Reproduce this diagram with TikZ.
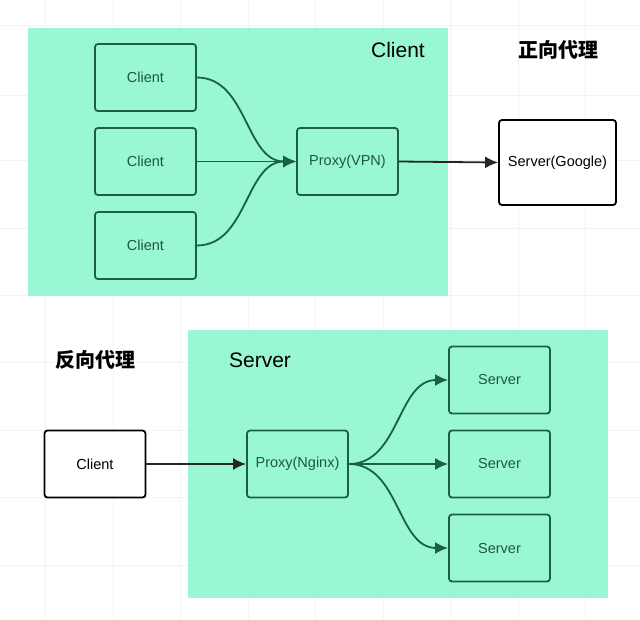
\documentclass[tikz,border=0pt]{standalone}
\usepackage{fontspec}
\setmainfont{Liberation Sans}
\newfontfamily\cjkfont{Noto Sans CJK SC}
\usetikzlibrary{arrows.meta}
\definecolor{mintfill}{RGB}{153,247,212}
\definecolor{boxgreen}{RGB}{28,96,66}
\definecolor{textgreen}{RGB}{32,88,62}
\definecolor{gridgray}{RGB}{243,243,243}

\tikzset{
  greenbox/.style={draw=boxgreen, line width=1.8pt, rounded corners=3pt,
    minimum width=101pt, minimum height=67pt, text=textgreen,
    font=\fontsize{14.5}{17}\selectfont},
  whitebox/.style={draw=black, fill=white, line width=1.8pt, rounded corners=3pt,
    minimum height=67pt, minimum width=101pt, font=\fontsize{14.5}{17}\selectfont},
  flow/.style={draw=boxgreen, line width=1.8pt, -{Latex[length=13pt,width=12pt]}},
  blackflow/.style={draw=black!85, line width=1.8pt, -{Latex[length=13pt,width=12pt]}}
}

\begin{document}
\begin{tikzpicture}[x=1pt, y=-1pt]
\useasboundingbox (0,0) rectangle (640,619);
\fill[white] (0,0) rectangle (640,619);
% faint grid in the background
\foreach \gx in {45,113,180,248,315,383,450,518,585}
  \draw[gridgray, line width=0.6pt] (\gx,0) -- (\gx,619);
\foreach \gy in {25,95,160,228,295,362,430,497,565}
  \draw[gridgray, line width=0.6pt] (0,\gy) -- (640,\gy);

% forward proxy
\fill[mintfill] (28,28) rectangle (448,296);
\node[font=\fontsize{21}{24}\selectfont] (clienttitle) at (398,50) {Client};
\node[font=\cjkfont\bfseries\fontsize{20}{24}\selectfont] (fwdtitle) at (558,50) {正向代理};
\node[greenbox] (client1) at (145.5,77.5) {Client};
\node[greenbox] (client2) at (145.5,161.5) {Client};
\node[greenbox] (client3) at (145.5,245.5) {Client};
\node[greenbox] (vpn) at (347.5,161.5) {Proxy(VPN)};
\node[whitebox, minimum width=117pt, minimum height=85pt] (google) at (557.5,162.5) {Server(Google)};
\draw[flow] (client1.east) to[out=0, in=180] (vpn.west);
\draw[flow] (client2.east) -- (vpn.west);
\draw[flow] (client3.east) to[out=0, in=180] (vpn.west);
\draw[blackflow] (vpn.east) -- (google.west);

% reverse proxy
\fill[mintfill] (188,330) rectangle (608,598);
\node[font=\cjkfont\bfseries\fontsize{20}{24}\selectfont] (revtitle) at (95,360) {反向代理};
\node[font=\fontsize{21}{24}\selectfont] (servertitle) at (260,360) {Server};
\node[whitebox] (client) at (95,464) {Client};
\node[greenbox] (nginx) at (297.5,464) {Proxy(Nginx)};
\node[greenbox] (server1) at (499.5,380) {Server};
\node[greenbox] (server2) at (499.5,464) {Server};
\node[greenbox] (server3) at (499.5,548) {Server};
\draw[blackflow] (client.east) -- (nginx.west);
\draw[flow] (nginx.east) to[out=0, in=180] (server1.west);
\draw[flow] (nginx.east) -- (server2.west);
\draw[flow] (nginx.east) to[out=0, in=180] (server3.west);
\end{tikzpicture}
\end{document}
